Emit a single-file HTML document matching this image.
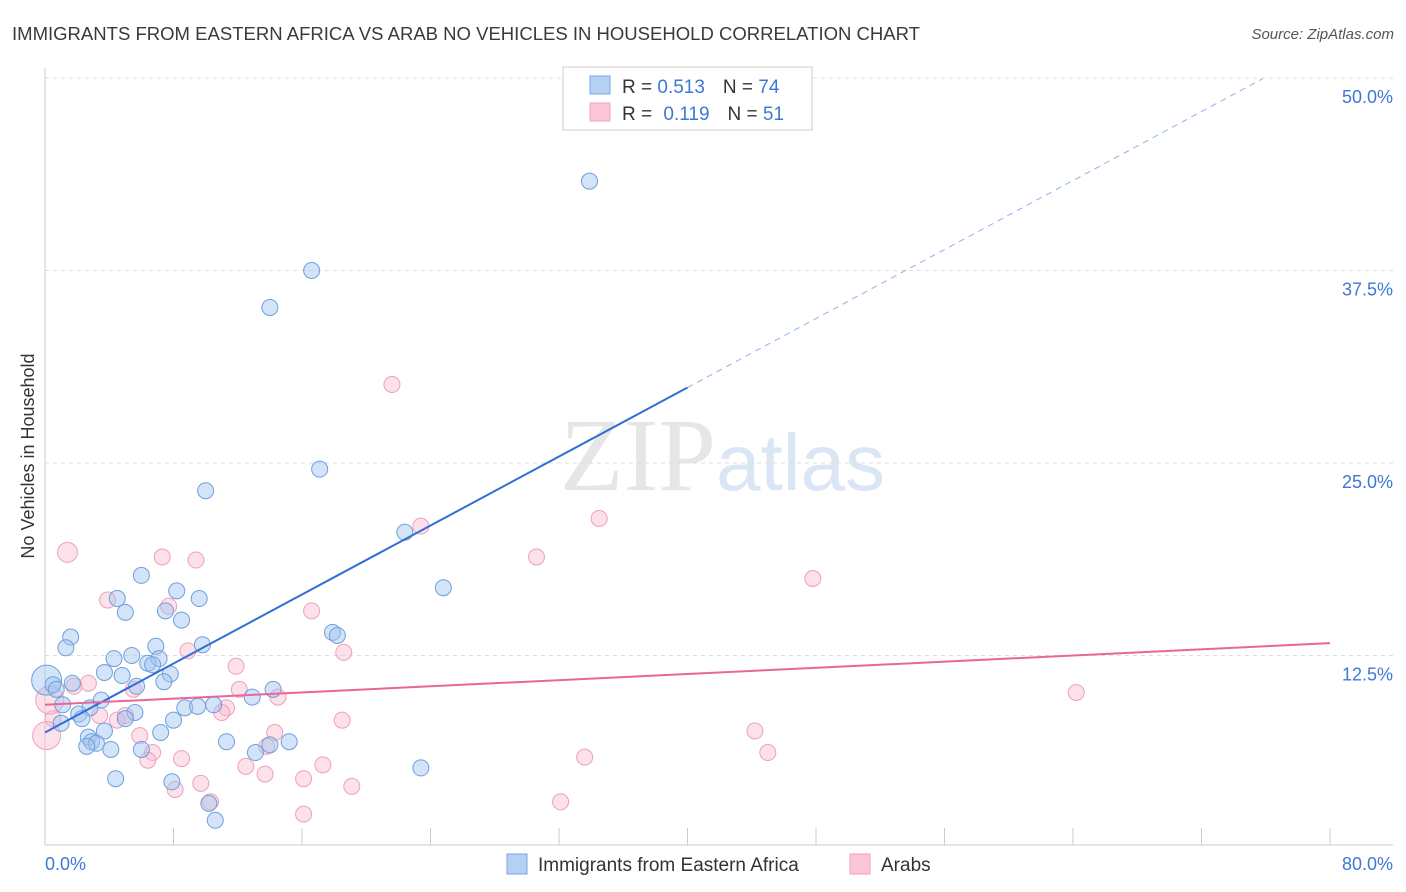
<!DOCTYPE html>
<html><head><meta charset="utf-8"><style>
body{margin:0;background:#fff;font-family:"Liberation Sans",sans-serif;}
svg{display:block}
</style></head><body>
<svg width="1406" height="892" xmlns="http://www.w3.org/2000/svg" id="chart">
<text x="12" y="40" font-size="18" fill="#3a3a3a" textLength="908" lengthAdjust="spacingAndGlyphs">IMMIGRANTS FROM EASTERN AFRICA VS ARAB NO VEHICLES IN HOUSEHOLD CORRELATION CHART</text>
<text x="1394" y="39" font-size="15" fill="#555" font-style="italic" text-anchor="end">Source: ZipAtlas.com</text>
<text x="34" y="456" font-size="18" fill="#333" text-anchor="middle" transform="rotate(-90 34 456)">No Vehicles in Household</text>
<text x="716" y="490" font-size="104" fill="#e6e6e6" text-anchor="end" font-family="Liberation Serif,serif">ZIP</text>
<text x="716" y="490" font-size="80" fill="#dbe6f5">atlas</text>
<g id="grid"></g><g id="axes"></g><g id="pts"></g><g id="lines"></g>
<g>
<rect x="563" y="67" width="249" height="63" fill="#fff" stroke="#ccc"/>
<rect x="590" y="76" width="20" height="18" fill="#b5d0f3" stroke="#7aa7e0"/>
<rect x="590" y="103" width="20" height="18" fill="#fbc6d6" stroke="#eea0bb"/>
<text x="622" y="93" font-size="19" fill="#333">R = <tspan fill="#3f78d4">0.513</tspan><tspan dx="18">N = </tspan><tspan fill="#3f78d4">74</tspan></text>
<text x="622" y="120" font-size="19" fill="#333">R = <tspan fill="#3f78d4" dx="6">0.119</tspan><tspan dx="18">N = </tspan><tspan fill="#3f78d4">51</tspan></text>
</g>
<g>
<rect x="507" y="854" width="20" height="20" fill="#b5d0f3" stroke="#7aa7e0"/>
<text x="538" y="871" font-size="19" fill="#333">Immigrants from Eastern Africa</text>
<rect x="850" y="854" width="20" height="20" fill="#fbc6d6" stroke="#eea0bb"/>
<text x="881" y="871" font-size="19" fill="#333">Arabs</text>
</g>
</svg>
<script>
const blueX=[33.9,16.6,14.0,17.1,10.0,22.4,24.8,6.0,8.2,9.6,4.5,5.0,7.5,8.5,1.6,1.3,9.8,17.9,18.2,6.9,5.4,7.1,4.3,6.4,6.7,7.8,4.8,3.7,7.4,5.7,0.1,0.5,0.7,1.7,14.2,12.9,3.5,1.1,2.8,8.7,9.5,10.5,5.6,2.1,2.3,5.0,1.0,3.7,7.2,2.7,2.9,3.2,2.6,4.1,11.3,6.0,13.1,15.2,14.0,8.0,4.4,7.9,10.2,10.6,23.4];
const blueY=[43.3,37.5,35.1,24.6,23.2,20.5,16.9,17.7,16.7,16.2,16.2,15.3,15.4,14.8,13.7,13.0,13.2,14.0,13.8,13.1,12.5,12.3,12.3,12.0,11.9,11.3,11.2,11.4,10.8,10.5,10.9,10.6,10.3,10.7,10.3,9.8,9.6,9.3,9.1,9.1,9.2,9.3,8.8,8.7,8.4,8.4,8.1,7.6,7.5,7.2,6.9,6.8,6.6,6.4,6.9,6.4,6.2,6.9,6.7,8.3,4.5,4.3,2.9,1.8,5.2];
const pinkX=[21.6,34.5,23.4,1.4,30.6,7.3,9.4,47.8,3.9,7.7,16.6,18.6,8.9,11.9,2.7,1.8,12.1,5.5,14.5,11.3,11.0,3.4,5.0,4.5,18.5,0.5,64.2,14.3,44.2,5.9,13.8,45.0,6.7,8.5,6.4,33.6,12.5,17.3,13.7,16.1,9.7,8.1,19.1,10.3,32.1,16.1,0.1,0.3];
const pinkY=[30.1,21.4,20.9,19.2,18.9,18.9,18.7,17.5,16.1,15.7,15.4,12.7,12.8,11.8,10.7,10.5,10.3,10.3,9.8,9.1,8.8,8.6,8.6,8.3,8.3,8.4,10.1,7.5,7.6,7.3,6.6,6.2,6.2,5.8,5.7,5.9,5.3,5.4,4.8,4.5,4.2,3.8,4.0,3.0,3.0,2.2,7.3,9.6];
const yTicks=[12.5,25,37.5,50];
const xTickVals=[0,8,16,24,32,40,48,56,64,72,80];
const blueFit=[7.5,0.56]; const pinkFit=[9.3,0.05];
const X=v=>45+v/80*1285, Y=v=>848-v/12.5*192.5;
const NS="http://www.w3.org/2000/svg";
function mk(p,t,a){const e=document.createElementNS(NS,t);for(const k in a)e.setAttribute(k,a[k]);p.appendChild(e);return e;}
const grid=document.getElementById('grid'),axes=document.getElementById('axes'),pts=document.getElementById('pts'),lines=document.getElementById('lines');
yTicks.forEach(v=>{const l=mk(grid,'line',{x1:45,x2:1393,y1:Y(v),y2:Y(v),stroke:'#ddd','stroke-dasharray':'4,4'});


const t=mk(axes,'text',{x:1393,y:Y(v)+25,'font-size':18,fill:'#3f78d4','text-anchor':'end'});t.textContent=v.toFixed(1)+'%';

});
mk(axes,'line',{x1:45,x2:45,y1:68,y2:845,stroke:'#ccc'});
mk(axes,'line',{x1:45,x2:1393,y1:845,y2:845,stroke:'#ccc'});
xTickVals.forEach(v=>{const l=mk(axes,'line',{x1:X(v),x2:X(v),y1:828,y2:845,stroke:'#ccc'});

});
const t0=mk(axes,'text',{x:45,y:870,'font-size':18,fill:'#3f78d4'});t0.textContent='0.0%';


const t1=mk(axes,'text',{x:1393,y:870,'font-size':18,fill:'#3f78d4','text-anchor':'end'});t1.textContent='80.0%';


pinkX.forEach((x,i)=>{const big=x<0.5&&pinkY[i]>7;const c=mk(pts,'circle',{cx:X(x),cy:Y(pinkY[i]),r:big?14:(x===1.4?10:8),fill:'rgba(248,187,208,0.45)',stroke:'#eea0bb','stroke-width':1});

});
blueX.forEach((x,i)=>{const big=x<0.2;const c=mk(pts,'circle',{cx:X(x),cy:Y(blueY[i]),r:big?15:8,fill:'rgba(160,196,240,0.45)',stroke:'#6f9fdc','stroke-width':1});

});
const bl=mk(lines,'line',{x1:X(0),y1:Y(blueFit[0]),x2:X(40),y2:Y(blueFit[0]+blueFit[1]*40),stroke:'#2f6fd6','stroke-width':2});


const bd=mk(lines,'line',{x1:X(40),y1:Y(blueFit[0]+blueFit[1]*40),x2:X(75.8),y2:Y(blueFit[0]+blueFit[1]*75.8),stroke:'#8fb2e6','stroke-width':1,'stroke-dasharray':'6,5'});


const pl=mk(lines,'line',{x1:X(0),y1:Y(pinkFit[0]),x2:X(80),y2:Y(pinkFit[0]+pinkFit[1]*80),stroke:'#e8679a','stroke-width':2});


</script>
</body></html>
